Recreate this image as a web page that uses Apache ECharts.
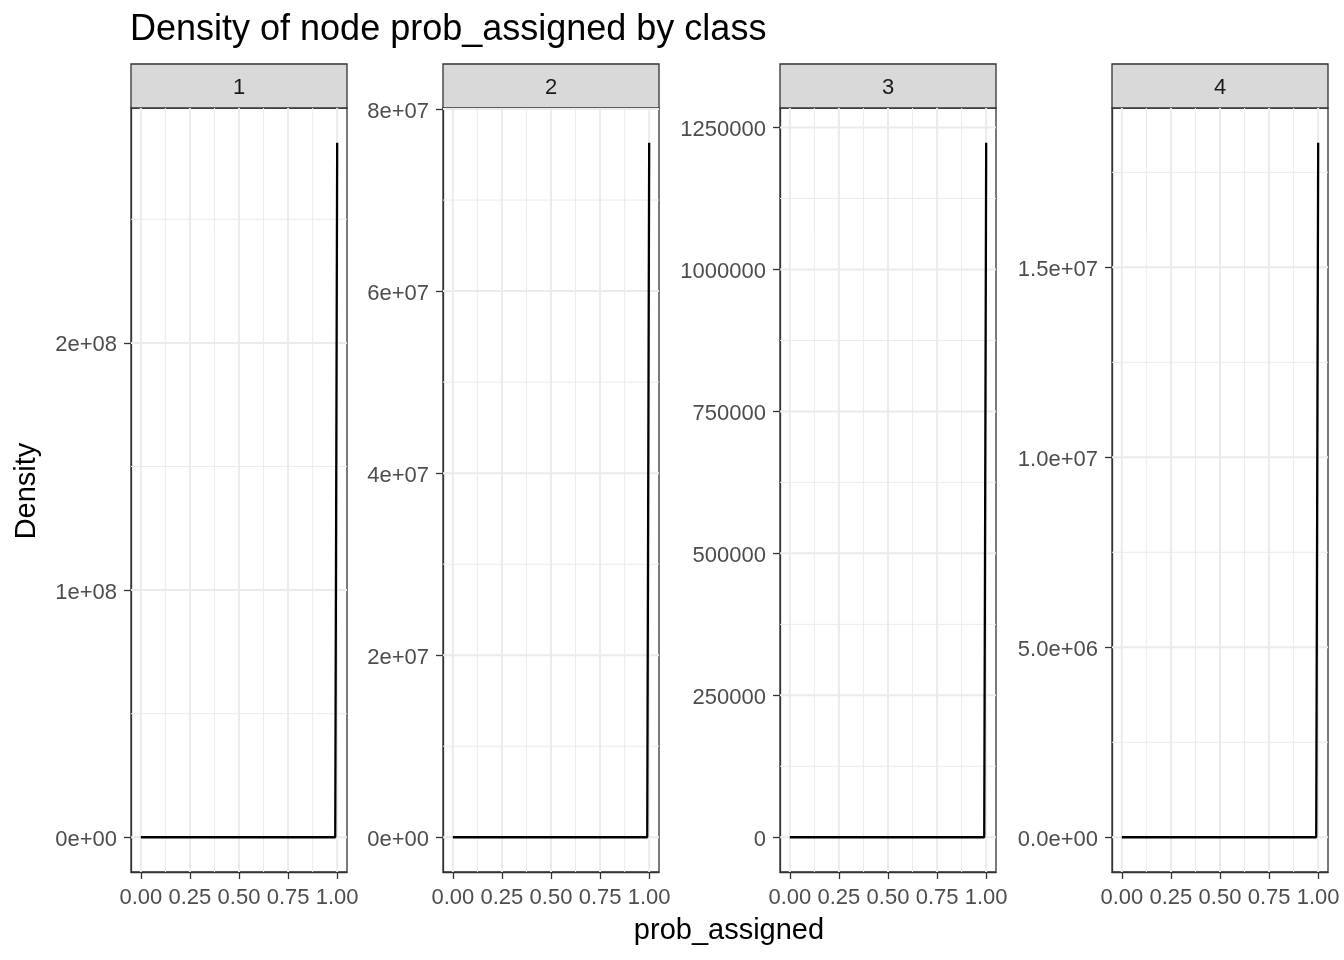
<!DOCTYPE html>
<html>
<head>
<meta charset="UTF-8">
<title>Density of node prob_assigned by class</title>
<script src="https://cdn.jsdelivr.net/npm/echarts@6/dist/echarts.min.js"></script>
<style>
  html, body { margin: 0; padding: 0; background: #fff; }
  #chart { width: 1344px; height: 960px; }
</style>
</head>
<body>
<div id="chart"></div>
<script>
// data
var classes = ['1', '2', '3', '4'];
var probX = [0, 0.25, 0.5, 0.75, 0.99, 0.998, 1.0];
var dens1 = [0, 0, 0, 0, 0, 0, 2.81e8];
var dens2 = [0, 0, 0, 0, 0, 0, 7.63e7];
var dens3 = [0, 0, 0, 0, 0, 0, 1.2232e6];
var dens4 = [0, 0, 0, 0, 0, 0, 1.828e7];

var xTicks = [0, 0.25, 0.5, 0.75, 1];
var xTickLabels = ['0.00', '0.25', '0.50', '0.75', '1.00'];
var xMinor = [0.125, 0.375, 0.625, 0.875];

var yTicks1 = [0, 1e8, 2e8];
var yTickLabels1 = ['0e+00', '1e+08', '2e+08'];
var yMinor1 = [0.5e8, 1.5e8, 2.5e8];
var yTicks2 = [0, 2e7, 4e7, 6e7, 8e7];
var yTickLabels2 = ['0e+00', '2e+07', '4e+07', '6e+07', '8e+07'];
var yMinor2 = [1e7, 3e7, 5e7, 7e7];
var yTicks3 = [0, 250000, 500000, 750000, 1000000, 1250000];
var yTickLabels3 = ['0', '250000', '500000', '750000', '1000000', '1250000'];
var yMinor3 = [125000, 375000, 625000, 875000, 1125000];
var yTicks4 = [0, 5e6, 1e7, 1.5e7];
var yTickLabels4 = ['0.0e+00', '5.0e+06', '1.0e+07', '1.5e+07'];
var yMinor4 = [2.5e6, 7.5e6, 1.25e7, 1.75e7];

var densities = [dens1, dens2, dens3, dens4];
var yTicks = [yTicks1, yTicks2, yTicks3, yTicks4];
var yTickLabels = [yTickLabels1, yTickLabels2, yTickLabels3, yTickLabels4];
var yMinor = [yMinor1, yMinor2, yMinor3, yMinor4];

// layout
var panelLeft = [131, 443, 780, 1112];
var panelW = 216, panelTop = 108, panelH = 764, stripH = 44;
var font = 'Liberation Sans, Arial, Helvetica, sans-serif';
var xMin = -0.05, xMax = 1.05;

var grids = [], xAxes = [], yAxes = [], series = [], graphics = [];

function lookup(ticks, labels, rich) {
  return function (v) {
    for (var i = 0; i < ticks.length; i++) {
      if (Math.abs(ticks[i] - v) <= Math.abs(ticks[ticks.length - 1]) * 1e-9 + 1e-12) {
        return rich ? '{t|' + labels[i] + '}' : labels[i];
      }
    }
    return '';
  };
}

// vertical and horizontal gridline segments, broken with '-'
function gridSegments(xs, ys, yLo, yHi) {
  var out = [];
  xs.forEach(function (v) { out.push([v, yLo], [v, yHi], [v, '-']); });
  ys.forEach(function (v) { out.push([xMin, v], [xMax, v], ['-', v]); });
  return out;
}

for (var p = 0; p < classes.length; p++) {
  var d = densities[p];
  var peak = Math.max.apply(null, d);
  var yLo = -0.05 * peak, yHi = 1.05 * peak;
  grids.push({
    left: panelLeft[p], top: panelTop, width: panelW, height: panelH,
    show: true, borderColor: '#333333', borderWidth: 1.3, backgroundColor: '#fff'
  });
  xAxes.push({
    gridIndex: p, type: 'value', min: xMin, max: xMax,
    axisLine: { show: true, onZero: false, lineStyle: { color: '#333333', width: 1.3 } },
    splitLine: { show: false },
    axisTick: { show: true, customValues: xTicks, length: 7, lineStyle: { color: '#333333', width: 1.3 } },
    axisLabel: {
      customValues: xTicks, margin: 15, color: '#4D4D4D', fontSize: 22, fontFamily: font,
      formatter: lookup(xTicks, xTickLabels, false)
    }
  });
  yAxes.push({
    gridIndex: p, type: 'value', min: yLo, max: yHi,
    axisLine: { show: true, onZero: false, lineStyle: { color: '#333333', width: 1.3 } },
    splitLine: { show: false },
    axisTick: { show: true, customValues: yTicks[p], length: 7, lineStyle: { color: '#333333', width: 1.3 } },
    axisLabel: {
      customValues: yTicks[p], margin: 14, color: '#4D4D4D', fontSize: 22, fontFamily: font,
      formatter: lookup(yTicks[p], yTickLabels[p], true),
      rich: { t: { color: '#4D4D4D', fontSize: 22, fontFamily: font, padding: [5, 0, 0, 0] } }
    }
  });

  series.push({
    type: 'line', xAxisIndex: p, yAxisIndex: p, z: 1, silent: true,
    data: gridSegments(xMinor, yMinor[p], yLo, yHi),
    showSymbol: false, symbol: 'none', connectNulls: false,
    lineStyle: { color: '#EBEBEB', width: 1 }
  });
  series.push({
    type: 'line', xAxisIndex: p, yAxisIndex: p, z: 1, silent: true,
    data: gridSegments(xTicks, yTicks[p], yLo, yHi),
    showSymbol: false, symbol: 'none', connectNulls: false,
    lineStyle: { color: '#EBEBEB', width: 2 }
  });
  series.push({
    type: 'line', xAxisIndex: p, yAxisIndex: p, z: 3,
    data: probX.map(function (x, i) { return [x, d[i]]; }),
    showSymbol: false, symbol: 'none',
    lineStyle: { color: '#000', width: 2.3 }
  });

  graphics.push({
    type: 'rect',
    shape: { x: panelLeft[p], y: panelTop - stripH, width: panelW, height: stripH },
    style: { fill: '#D9D9D9', stroke: '#333333', lineWidth: 1.3 }
  });
  graphics.push({
    type: 'text', x: panelLeft[p] + panelW / 2, y: panelTop - stripH / 2 + 2,
    style: { text: classes[p], fill: '#1A1A1A', font: '22px ' + font, textAlign: 'center', textVerticalAlign: 'middle' }
  });
}

graphics.push({
  type: 'text', x: 729, y: 931,
  style: { text: 'prob_assigned', fill: '#000', font: '29px ' + font, textAlign: 'center', textVerticalAlign: 'middle' }
});
graphics.push({
  type: 'text', x: 27, y: 491, rotation: Math.PI / 2,
  style: { text: 'Density', fill: '#000', font: '29px ' + font, textAlign: 'center', textVerticalAlign: 'middle' }
});

var chart = echarts.init(document.getElementById('chart'));
chart.setOption({
  animation: false,
  backgroundColor: '#fff',
  title: {
    text: 'Density of node prob_assigned by class',
    left: 130, top: 12, padding: 0,
    textStyle: { fontSize: 36, fontWeight: 'normal', color: '#000', fontFamily: font }
  },
  grid: grids,
  xAxis: xAxes,
  yAxis: yAxes,
  series: series,
  graphic: graphics
});
</script>
</body>
</html>
